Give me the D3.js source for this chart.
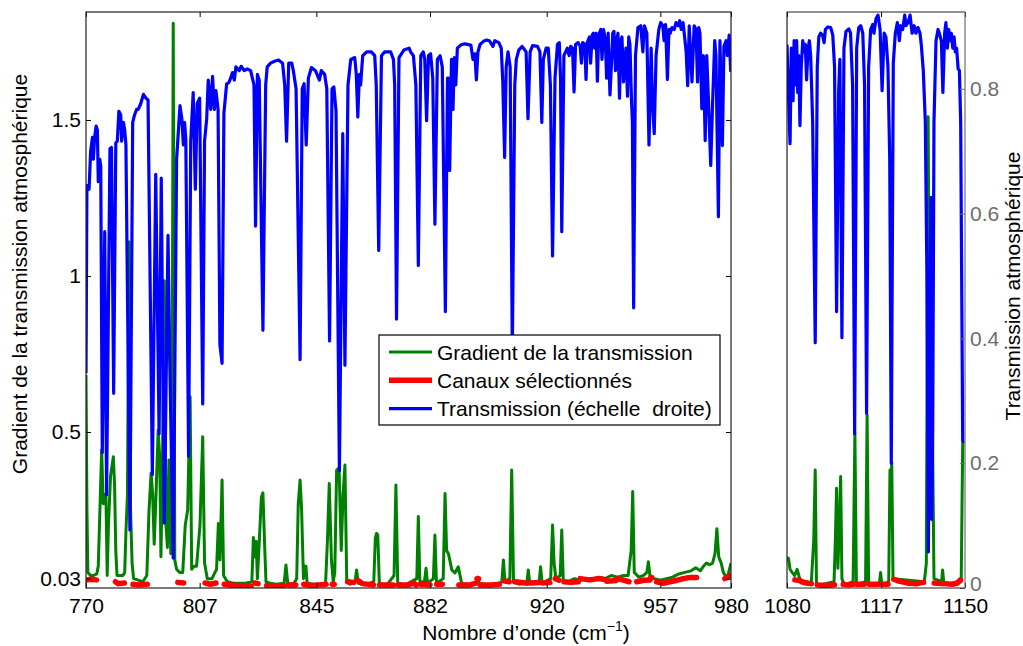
<!DOCTYPE html>
<html>
<head>
<meta charset="utf-8">
<script src="https://cdn.jsdelivr.net/npm/d3@7"></script>
<style>
  body { margin: 0; background: #fff; }
  text { font-family: "Liberation Sans", Arial, sans-serif; }
</style>
</head>
<body>
<div id="chart"></div>
<script>
/*************************************/
/* Data                              */
/*************************************/

// Tick labels
const xTicksLeft = [770, 807, 845, 882, 920, 957, 980];
const xTicksRight = [1080, 1117, 1150];
const gradTicks = [0.03, 0.5, 1, 1.5];
const transTicks = [0, 0.2, 0.4, 0.6, 0.8];

// Transmission (right scale), [wavenumber, value]
const transLeft = [
  [770.0,0.344],[770.3,0.645],[771.0,0.639],[771.5,0.699],[772.1,0.722],[772.4,0.687],[772.8,0.722],[773.3,0.740],
  [773.7,0.734],[774.0,0.651],[774.5,0.687],[774.8,0.675],[775.3,0.217],[776.1,0.571],[776.7,0.149],[777.8,0.704],
  [778.3,0.706],[779.0,0.312],[779.7,0.713],[780.2,0.716],[780.7,0.764],[781.3,0.758],[781.6,0.716],[782.2,0.746],
  [782.6,0.734],[783.0,0.710],[784.3,0.093],[785.2,0.746],[785.8,0.758],[786.5,0.767],[787.0,0.767],[787.8,0.776],
  [788.7,0.791],[789.5,0.785],[790.2,0.782],[791.6,0.182],[792.7,0.663],[793.8,0.247],[794.5,0.657],[795.5,0.104],
  [796.7,0.565],[797.3,0.354],[798.4,0.048],[799.5,0.687],[800.6,0.773],[801.2,0.752],[801.7,0.710],[802.1,0.746],
  [802.5,0.719],[803.4,0.211],[804.1,0.716],[804.9,0.794],[805.6,0.639],[806.2,0.776],[807.0,0.785],[808.0,0.295],
  [808.6,0.716],[809.3,0.752],[809.8,0.814],[810.6,0.767],[811.2,0.820],[811.8,0.767],[812.3,0.797],[813.0,0.767],
  [813.6,0.390],[814.3,0.360],[814.9,0.761],[815.8,0.808],[816.5,0.810],[817.1,0.817],[817.7,0.826],[818.3,0.814],
  [818.8,0.835],[819.9,0.829],[820.5,0.836],[821.5,0.829],[822.5,0.832],[823.6,0.829],[824.7,0.806],[825.2,0.580],
  [825.8,0.823],[826.4,0.814],[827.6,0.413],[828.5,0.806],[829.0,0.835],[830.1,0.841],[831.4,0.844],[832.7,0.846],
  [834.0,0.841],[834.7,0.806],[835.3,0.716],[836.0,0.841],[837.0,0.841],[837.5,0.829],[838.4,0.800],[839.7,0.366],
  [840.4,0.800],[841.0,0.808],[841.7,0.710],[842.4,0.817],[843.4,0.834],[844.7,0.829],[845.5,0.820],[846.0,0.814],
  [846.6,0.829],[847.7,0.823],[848.4,0.800],[849.3,0.396],[850.1,0.800],[850.7,0.803],[851.4,0.764],[852.5,0.188],
  [853.6,0.728],[854.3,0.357],[855.3,0.806],[856.2,0.847],[857.5,0.850],[858.0,0.823],[858.5,0.755],[859.0,0.823],
  [859.4,0.806],[860.1,0.853],[861.4,0.859],[862.9,0.859],[864.0,0.853],[864.5,0.806],[865.3,0.541],[866.2,0.853],
  [867.2,0.859],[869.2,0.859],[870.1,0.847],[870.5,0.806],[871.1,0.431],[871.9,0.850],[873.5,0.862],[875.2,0.865],
  [875.7,0.859],[876.6,0.853],[877.4,0.806],[878.2,0.517],[879.0,0.853],[879.8,0.859],[880.3,0.847],[880.9,0.749],
  [881.5,0.853],[882.2,0.856],[882.9,0.817],[883.6,0.583],[884.4,0.847],[885.3,0.853],[886.0,0.835],[887.0,0.443],
  [887.7,0.817],[888.0,0.817],[888.4,0.669],[889.0,0.847],[889.5,0.767],[889.9,0.850],[890.4,0.806],[890.9,0.865],
  [892.0,0.870],[893.3,0.872],[895.3,0.870],[896.0,0.847],[896.6,0.856],[897.1,0.814],[897.6,0.859],[898.3,0.871],
  [899.4,0.876],[900.5,0.878],[901.3,0.877],[902.0,0.872],[902.5,0.868],[903.1,0.877],[904.4,0.874],[905.2,0.865],
  [905.7,0.811],[906.3,0.690],[906.8,0.835],[907.4,0.859],[908.1,0.835],[908.8,0.380],[909.6,0.806],[910.1,0.847],
  [910.9,0.862],[912.0,0.868],[913.3,0.859],[913.9,0.752],[914.6,0.859],[915.4,0.869],[917.0,0.868],[917.8,0.859],
  [918.4,0.746],[918.9,0.847],[919.8,0.865],[920.5,0.865],[921.2,0.806],[921.9,0.532],[922.7,0.817],[923.5,0.871],
  [924.1,0.874],[924.5,0.817],[924.9,0.571],[925.6,0.853],[926.7,0.865],[927.3,0.853],[927.8,0.868],[928.4,0.865],
  [928.9,0.795],[929.4,0.871],[930.2,0.874],[930.9,0.868],[931.3,0.841],[931.7,0.874],[932.4,0.871],[932.8,0.815],
  [933.2,0.874],[933.9,0.883],[934.3,0.841],[934.8,0.886],[935.2,0.889],[935.6,0.865],[936.1,0.889],[936.5,0.812],
  [936.9,0.886],[937.6,0.895],[938.0,0.847],[938.5,0.895],[939.1,0.877],[939.5,0.817],[940.0,0.889],[940.6,0.790],
  [941.1,0.841],[941.5,0.889],[941.9,0.892],[942.4,0.829],[942.8,0.877],[943.2,0.889],[943.7,0.785],[944.1,0.877],
  [944.5,0.883],[945.0,0.811],[945.4,0.841],[945.8,0.865],[946.3,0.788],[946.7,0.883],[947.1,0.871],[947.6,0.782],
  [947.9,0.746],[948.3,0.449],[948.9,0.853],[949.7,0.898],[950.6,0.901],[951.3,0.859],[951.8,0.901],[952.6,0.889],
  [953.3,0.710],[954.0,0.865],[954.4,0.782],[955.0,0.728],[955.6,0.853],[956.5,0.895],[957.1,0.906],[957.8,0.901],
  [958.2,0.877],[958.7,0.903],[959.3,0.815],[959.8,0.895],[960.2,0.889],[960.8,0.898],[961.5,0.895],[962.1,0.906],
  [962.8,0.901],[963.3,0.909],[963.8,0.895],[964.4,0.906],[964.9,0.883],[965.4,0.859],[965.9,0.805],[966.4,0.901],
  [966.9,0.853],[967.3,0.811],[968.0,0.901],[968.6,0.895],[969.1,0.811],[969.5,0.898],[969.9,0.889],[970.5,0.768],
  [971.0,0.853],[971.6,0.717],[972.1,0.853],[972.7,0.776],[973.4,0.677],[974.0,0.776],[974.7,0.877],[975.1,0.853],
  [975.9,0.595],[976.4,0.877],[977.2,0.709],[977.7,0.868],[978.4,0.877],[978.8,0.853],[979.4,0.886],[979.9,0.829],
  [980.0,0.83]
];

const transRight = [
  [1080.0,0.871],[1080.7,0.776],[1081.2,0.712],[1081.7,0.865],[1082.4,0.781],[1082.8,0.877],[1083.3,0.806],
  [1083.8,0.877],[1084.2,0.794],[1084.6,0.853],[1085.1,0.741],[1085.6,0.835],[1086.2,0.877],[1086.7,0.859],
  [1087.2,0.871],[1087.7,0.814],[1088.3,0.865],[1088.8,0.877],[1089.3,0.853],[1090.1,0.746],[1091.1,0.393],
  [1091.9,0.835],[1092.5,0.883],[1093.2,0.889],[1094.0,0.886],[1094.6,0.874],[1095.1,0.895],[1096.1,0.899],
  [1097.2,0.898],[1098.0,0.886],[1098.7,0.835],[1099.5,0.443],[1100.3,0.794],[1100.8,0.847],[1101.6,0.401],
  [1102.4,0.865],[1103.2,0.892],[1104.3,0.896],[1105.0,0.889],[1105.8,0.806],[1106.6,0.247],[1107.4,0.865],
  [1108.2,0.898],[1109.0,0.901],[1109.8,0.889],[1110.5,0.806],[1111.3,0.280],[1112.1,0.835],[1112.9,0.895],
  [1113.7,0.903],[1114.2,0.889],[1115.0,0.912],[1115.8,0.918],[1116.6,0.895],[1117.4,0.797],[1118.2,0.889],
  [1118.9,0.883],[1119.7,0.835],[1120.4,0.687],[1121.0,0.200],[1121.8,0.841],[1122.6,0.889],[1123.4,0.906],
  [1124.2,0.877],[1124.7,0.901],[1125.5,0.895],[1126.3,0.918],[1126.8,0.901],[1127.6,0.906],[1128.4,0.918],
  [1129.2,0.889],[1130.0,0.901],[1130.7,0.889],[1131.5,0.898],[1132.3,0.889],[1132.8,0.871],[1133.6,0.829],
  [1134.4,0.746],[1135.0,0.508],[1135.6,0.058],[1136.2,0.500],[1136.6,0.626],[1136.9,0.110],[1137.3,0.250],
  [1137.8,0.746],[1138.6,0.877],[1139.4,0.895],[1139.9,0.889],[1140.7,0.877],[1141.3,0.794],[1142.0,0.889],
  [1142.5,0.906],[1143.1,0.865],[1143.6,0.895],[1144.1,0.877],[1144.6,0.889],[1145.2,0.865],[1145.7,0.883],
  [1146.2,0.859],[1146.7,0.865],[1147.3,0.832],[1147.8,0.829],[1148.3,0.746],[1149.1,0.235],[1149.6,0.234]
];

// Gradient of the transmission (left scale), [wavenumber, value]
const gradLeft = [
  [770.0,0.683],[770.3,0.26],[770.6,0.05],[771.5,0.04],[772.5,0.04],[773.5,0.045],[774.0,0.07],[774.5,0.24],
  [775.1,0.442],[775.6,0.27],[776.1,0.30],[776.5,0.29],[776.9,0.04],[777.3,0.20],[778.0,0.36],[778.9,0.421],
  [779.3,0.33],[779.7,0.12],[780.1,0.04],[781.0,0.04],[782.0,0.04],[782.6,0.05],[783.0,0.18],[783.5,0.30],
  [784.0,1.11],[784.5,0.25],[785.0,0.08],[785.5,0.03],[787.0,0.025],[788.5,0.02],[789.8,0.04],[790.5,0.245],
  [791.2,0.368],[791.7,0.30],[792.2,0.14],[792.8,0.30],[793.5,0.506],[794.0,0.42],[794.4,0.10],[794.9,0.40],
  [795.5,0.985],[796.0,0.21],[796.5,0.13],[797.0,0.41],[797.6,0.11],[798.1,0.78],[798.4,1.81],[798.9,0.09],
  [799.5,0.06],[800.5,0.05],[801.5,0.05],[802.3,0.20],[803.1,0.25],[803.9,0.613],[804.4,0.06],[805.2,0.07],
  [806.0,0.07],[807.1,0.20],[808.0,0.485],[808.6,0.08],[809.5,0.03],[811.0,0.03],[812.5,0.06],[813.1,0.207],
  [813.6,0.09],[814.3,0.346],[814.8,0.04],[816.0,0.02],[818.0,0.015],[820.0,0.015],[822.0,0.015],[824.0,0.02],
  [824.5,0.162],[824.9,0.10],[825.4,0.15],[825.8,0.03],[826.3,0.126],[827.1,0.29],[827.6,0.305],[828.2,0.126],
  [828.6,0.02],[830.0,0.015],[832.0,0.012],[834.5,0.015],[835.1,0.074],[835.7,0.015],[837.5,0.012],[838.6,0.03],
  [839.1,0.27],[839.7,0.346],[840.2,0.25],[840.8,0.03],[841.2,0.07],[841.6,0.07],[842.0,0.015],[844.0,0.012],
  [846.0,0.012],[848.0,0.015],[848.6,0.15],[849.2,0.335],[849.9,0.09],[850.5,0.02],[851.0,0.05],[851.6,0.378],
  [852.4,0.385],[853.1,0.12],[853.7,0.30],[854.3,0.394],[854.9,0.02],[856.0,0.012],[857.6,0.02],[858.1,0.058],
  [858.6,0.015],[861.0,0.01],[863.7,0.02],[864.2,0.16],[864.6,0.175],[865.0,0.17],[865.5,0.015],[868.0,0.01],
  [870.3,0.04],[870.9,0.33],[871.5,0.015],[874.0,0.01],[877.7,0.03],[878.2,0.229],[878.7,0.02],[880.2,0.02],
  [880.7,0.063],[881.2,0.015],[883.1,0.03],[883.6,0.17],[884.1,0.015],[886.3,0.03],[886.9,0.303],[887.4,0.12],
  [888.0,0.11],[889.1,0.058],[890.1,0.048],[891.2,0.068],[892.3,0.015],[895.0,0.01],[897.2,0.02],[897.6,0.035],
  [898.0,0.015],[901.0,0.01],[904.0,0.012],[905.4,0.02],[905.9,0.09],[906.4,0.02],[908.0,0.03],[908.6,0.378],
  [909.2,0.02],[911.0,0.012],[913.5,0.015],[914.0,0.058],[914.5,0.015],[917.5,0.015],[918.0,0.068],[918.5,0.015],
  [921.3,0.03],[921.9,0.202],[922.4,0.08],[923.0,0.03],[924.4,0.04],[924.9,0.186],[925.4,0.02],[927.0,0.02],
  [929.0,0.03],[931.0,0.025],[933.0,0.03],[935.0,0.03],[937.0,0.035],[939.0,0.03],[941.0,0.04],[943.0,0.035],
  [945.0,0.04],[946.5,0.04],[947.5,0.12],[948.0,0.309],[948.5,0.05],[950.0,0.035],[951.5,0.04],[952.6,0.05],
  [953.1,0.084],[953.6,0.04],[955.0,0.03],[957.0,0.025],[959.0,0.03],[961.0,0.035],[963.0,0.045],[965.0,0.05],
  [967.0,0.055],[968.5,0.065],[970.0,0.055],[971.0,0.069],[972.0,0.08],[973.0,0.075],[974.0,0.08],[974.8,0.11],
  [975.4,0.19],[976.0,0.10],[976.8,0.08],[977.5,0.05],[978.3,0.037],[979.0,0.04],[979.5,0.06],[980.0,0.08]
];

const gradRight = [
  [1080.0,0.10],[1080.3,0.09],[1080.6,0.095],[1081.2,0.06],[1082.0,0.05],[1083.0,0.04],[1084.0,0.06],
  [1085.0,0.03],[1086.5,0.02],[1088.0,0.02],[1089.5,0.01],[1090.5,0.15],[1091.1,0.378],[1091.6,0.01],
  [1093.0,0.01],[1098.5,0.02],[1099.0,0.15],[1099.5,0.32],[1100.0,0.063],[1100.6,0.20],[1101.1,0.357],
  [1101.6,0.03],[1102.5,0.01],[1106.0,0.02],[1106.7,0.496],[1107.3,0.01],[1110.9,0.02],[1111.5,0.555],
  [1112.1,0.01],[1116.3,0.01],[1116.8,0.05],[1117.3,0.01],[1120.0,0.02],[1120.5,0.378],[1120.8,0.35],
  [1121.2,0.40],[1121.7,0.03],[1134.0,0.02],[1134.8,0.08],[1135.5,1.51],[1136.3,0.35],[1137.2,0.506],
  [1137.8,0.03],[1140.8,0.02],[1141.2,0.058],[1141.7,0.01],[1148.5,0.02],[1149.1,0.464],[1149.6,0.47]
];

// Selected channels (gradient value), one array per run of channels
const selectedLeft = [
  [[770.4,0.026],[771.5,0.028],[773.4,0.026]],
  [[779.6,0.02],[780.5,0.014],[782.5,0.016]],
  [[785.3,0.012],[787.0,0.01],[790.0,0.012]],
  [[799.9,0.018],[801.8,0.016]],
  [[808.8,0.016],[810.5,0.012],[812.3,0.016]],
  [[815.0,0.012],[818.0,0.008],[821.0,0.008],[823.8,0.006]],
  [[825.0,0.016],[826.0,0.014]],
  [[828.8,0.008],[831.5,0.006],[834.4,0.008]],
  [[835.8,0.01],[838.3,0.01]],
  [[840.9,0.012],[843.5,0.008],[846.0,0.01],[848.2,0.012]],
  [[850.2,0.012],[850.8,0.012]],
  [[855.2,0.02],[857.2,0.018]],
  [[858.6,0.024],[860.0,0.014],[863.6,0.01]],
  [[865.6,0.01],[870.1,0.01]],
  [[871.7,0.01],[875.0,0.01],[876.6,0.016],[877.5,0.01]],
  [[878.9,0.012],[882.0,0.01]],
  [[884.2,0.012],[886.0,0.012]],
  [[891.4,0.01],[895.0,0.01],[896.7,0.015]],
  [[897.3,0.03],[897.8,0.03]],
  [[898.3,0.01],[902.0,0.01],[904.6,0.012]],
  [[906.4,0.022],[907.8,0.02]],
  [[909.6,0.02],[912.0,0.018],[913.6,0.015]],
  [[914.6,0.016],[917.4,0.018]],
  [[918.6,0.016],[921.0,0.018]],
  [[922.8,0.03],[924.0,0.025]],
  [[925.6,0.02],[928.0,0.018],[930.3,0.02]],
  [[930.9,0.03],[934.0,0.026],[937.0,0.03],[938.4,0.028]],
  [[939.5,0.022],[942.6,0.024]],
  [[943.0,0.03],[945.0,0.025],[946.8,0.02]],
  [[949.3,0.02],[951.6,0.025],[953.6,0.026]],
  [[953.9,0.034],[954.2,0.034]],
  [[955.8,0.02],[958.0,0.015],[960.0,0.02],[962.5,0.025],[964.5,0.03]],
  [[965.5,0.032],[967.0,0.034],[968.8,0.034]],
  [[978.0,0.03],[979.8,0.04]]
];

const selectedRight = [
  [[1083.1,0.026],[1085.0,0.024]],
  [[1085.8,0.02],[1087.5,0.016],[1089.6,0.014]],
  [[1091.9,0.01],[1095.0,0.008],[1098.7,0.01]],
  [[1102.1,0.012],[1104.0,0.01],[1106.0,0.012]],
  [[1107.5,0.012],[1110.4,0.012]],
  [[1112.3,0.012],[1115.8,0.012]],
  [[1117.1,0.012],[1119.7,0.012]],
  [[1122.0,0.028],[1124.0,0.022],[1128.0,0.015],[1131.0,0.014],[1133.7,0.018]],
  [[1137.9,0.016],[1140.7,0.014]],
  [[1141.9,0.014],[1145.0,0.012],[1147.0,0.016],[1148.2,0.026]]
];

/*************************************/
/* Layout                            */
/*************************************/

const width = 1023;
const height = 646;
const plotTop = 12;
const plotBottom = 588;
const left1 = 86, right1 = 731;
const left2 = 787, right2 = 965;

const fontSize = 21;
const blue = '#0000ff';
const green = '#008000';
const red = '#ff0000';
const gray = '#6e6e6e';
const gradWidth = 3;
const selWidth = 5.5;
const transWidth = 3.2;

const svg = d3.select('#chart')
  .append('svg')
  .attr('width', width)
  .attr('height', height);

// Scales
const yGrad = d3.scaleLinear().domain([0, 1.846]).range([plotBottom, plotTop]);
const yTrans = d3.scaleLinear().domain([0, 0.923]).range([plotBottom, plotTop]);
const xLeft = d3.scaleLinear().domain([770, 980]).range([left1, right1]);
const xRight = d3.scaleLinear().domain([1080, 1150]).range([left2, right2]);

/*************************************/
/* Panels                            */
/*************************************/

const drawPanel = (name, x, x0, x1, grad, selected, trans) => {
  svg.append('clipPath')
    .attr('id', 'clip-' + name)
    .append('rect')
    .attr('x', x0).attr('y', plotTop)
    .attr('width', x1 - x0).attr('height', plotBottom - plotTop);

  const g = svg.append('g').attr('clip-path', `url(#clip-${name})`);

  const gradLine = d3.line().x(d => x(d[0])).y(d => yGrad(d[1]));
  const transLine = d3.line().x(d => x(d[0])).y(d => yTrans(d[1]));

  // Gradient
  g.append('path')
    .datum(grad)
    .attr('d', gradLine)
    .attr('fill', 'none')
    .attr('stroke', green)
    .attr('stroke-width', gradWidth)
    .attr('stroke-linejoin', 'round');

  // Selected channels
  g.selectAll('path.sel')
    .data(selected)
    .join('path')
      .attr('class', 'sel')
      .attr('d', gradLine)
      .attr('fill', 'none')
      .attr('stroke', red)
      .attr('stroke-width', selWidth)
      .attr('stroke-linecap', 'round')
      .attr('stroke-linejoin', 'round');

  // Transmission (right scale)
  g.append('path')
    .datum(trans)
    .attr('d', transLine)
    .attr('fill', 'none')
    .attr('stroke', blue)
    .attr('stroke-width', transWidth)
    .attr('stroke-linejoin', 'round');
};

drawPanel('left', xLeft, left1, right1, gradLeft, selectedLeft, transLeft);
drawPanel('right', xRight, left2, right2, gradRight, selectedRight, transRight);

/*************************************/
/* Axes                              */
/*************************************/

const styleAxis = (sel, color) => {
  sel.select('.domain').remove();
  sel.selectAll('line').attr('stroke', color);
  sel.selectAll('text')
    .attr('fill', color)
    .style('font-family', '"Liberation Sans", Arial, sans-serif')
    .style('font-size', fontSize + 'px');
};

// Left panel
svg.append('g')
  .attr('transform', `translate(0,${plotBottom})`)
  .call(d3.axisBottom(xLeft).tickValues(xTicksLeft).tickSize(-5).tickPadding(10).tickFormat(d3.format('d')))
  .call(s => styleAxis(s, '#000'));

svg.append('g')
  .attr('transform', `translate(0,${plotTop})`)
  .call(d3.axisTop(xLeft).tickValues(xTicksLeft).tickSize(-5).tickFormat(''))
  .call(s => styleAxis(s, '#000'));

svg.append('g')
  .attr('transform', `translate(${left1},0)`)
  .call(d3.axisLeft(yGrad).tickValues(gradTicks).tickSize(-5).tickPadding(5).tickFormat(d => String(d)))
  .call(s => styleAxis(s, '#000'));

svg.append('g')
  .attr('transform', `translate(${right1},0)`)
  .call(d3.axisRight(yGrad).tickValues(gradTicks).tickSize(-5).tickFormat(''))
  .call(s => styleAxis(s, '#000'));

// Right panel
svg.append('g')
  .attr('transform', `translate(0,${plotBottom})`)
  .call(d3.axisBottom(xRight).tickValues(xTicksRight).tickSize(-5).tickPadding(10).tickFormat(d3.format('d')))
  .call(s => styleAxis(s, '#000'));

svg.append('g')
  .attr('transform', `translate(0,${plotTop})`)
  .call(d3.axisTop(xRight).tickValues(xTicksRight).tickSize(-5).tickFormat(''))
  .call(s => styleAxis(s, '#000'));

svg.append('g')
  .attr('transform', `translate(${right2},0)`)
  .call(d3.axisRight(yTrans).tickValues(transTicks).tickSize(-5).tickPadding(5).tickFormat(d => String(d)))
  .call(s => styleAxis(s, gray))
  // lift the "0" label a little so it clears the 1150 label underneath
  .call(s => s.selectAll('.tick text').filter(d => d === 0).attr('dy', '0.1em'));

// Frames
svg.append('rect')
  .attr('x', left1).attr('y', plotTop)
  .attr('width', right1 - left1).attr('height', plotBottom - plotTop)
  .attr('fill', 'none').attr('stroke', '#222').attr('stroke-width', 1.2);

svg.append('path')
  .attr('d', `M${right2},${plotTop}H${left2}V${plotBottom}H${right2}`)
  .attr('fill', 'none').attr('stroke', '#222').attr('stroke-width', 1.2);

svg.append('line')
  .attr('x1', right2).attr('x2', right2).attr('y1', plotTop).attr('y2', plotBottom)
  .attr('stroke', gray).attr('stroke-width', 1.2);

/*************************************/
/* Axis titles                       */
/*************************************/

svg.append('text')
  .attr('transform', 'translate(27,274) rotate(-90)')
  .attr('text-anchor', 'middle')
  .style('font-size', fontSize + 'px')
  .text('Gradient de la transmission atmosphérique');

svg.append('text')
  .attr('transform', 'translate(1020,286) rotate(-90)')
  .attr('text-anchor', 'middle')
  .style('font-size', fontSize + 'px')
  .text('Transmission atmosphérique');

const xTitle = svg.append('text')
  .attr('x', 526).attr('y', 640)
  .attr('text-anchor', 'middle')
  .style('font-size', fontSize + 'px');
xTitle.append('tspan').text('Nombre d’onde (cm');
xTitle.append('tspan').attr('dy', -9).style('font-size', '14px').text('−1');
xTitle.append('tspan').attr('dy', 9).text(')');

/*************************************/
/* Legend                            */
/*************************************/

const legendItems = [
  { label: 'Gradient de la transmission', color: green, width: gradWidth },
  { label: 'Canaux sélectionnés', color: red, width: selWidth },
  { label: 'Transmission (échelle  droite)', color: blue, width: transWidth }
];

const legend = svg.append('g');
legend.append('rect')
  .attr('x', 379).attr('y', 335)
  .attr('width', 341).attr('height', 90)
  .attr('fill', '#fff').attr('stroke', '#000').attr('stroke-width', 1.2);

const rows = legend.selectAll('g.row')
  .data(legendItems)
  .join('g')
    .attr('class', 'row')
    .attr('transform', (d, i) => `translate(0,${352 + i * 28.3})`);

rows.append('line')
  .attr('x1', 389).attr('x2', 432)
  .attr('stroke', d => d.color)
  .attr('stroke-width', d => d.width);

rows.append('text')
  .attr('x', 437).attr('y', 7.5)
  .style('font-size', fontSize + 'px')
  .style('white-space', 'pre')
  .text(d => d.label);
</script>
</body>
</html>
